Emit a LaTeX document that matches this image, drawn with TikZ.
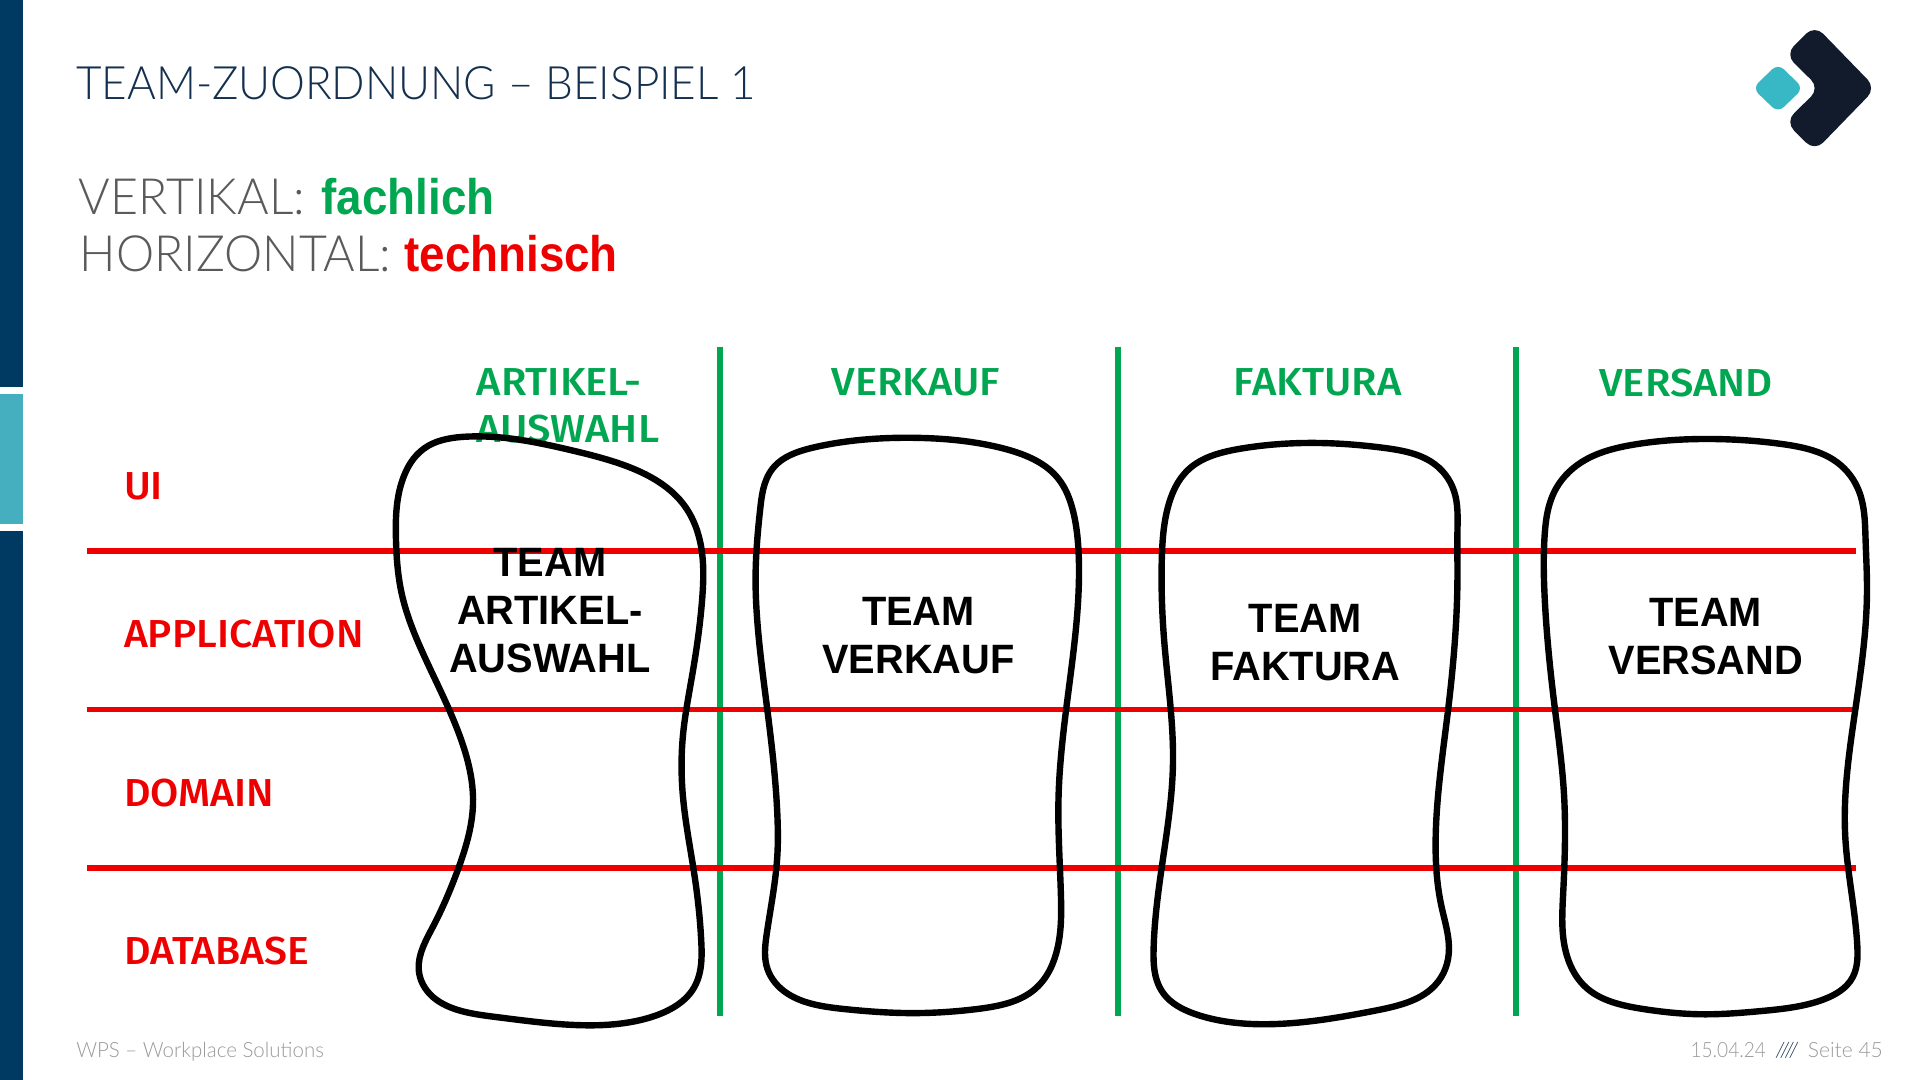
\documentclass[tikz,border=0pt]{standalone}
\usepackage{fontspec}
\usetikzlibrary{hobby}
\setmainfont{Liberation Sans}
\newfontfamily\titlef[FakeStretch=.957]{Lato Light}
\newfontfamily\lightf[FakeStretch=.965]{Lato Light}
\newfontfamily\footf[FakeStretch=.975]{Lato Light}
\newfontfamily\datef[FakeStretch=.91]{Lato Light}
\newfontfamily\slashf{Lato Light}
\newfontfamily\toplab[FakeStretch=1.07]{Fira Sans Medium}
\newfontfamily\sidelab[FakeStretch=1.05]{Fira Sans Medium}
\newfontfamily\bnarrow[FakeStretch=.915]{Liberation Sans}
\newfontfamily\tnarrow[FakeStretch=.97]{Liberation Sans}
\definecolor{navy}{HTML}{003A63}
\definecolor{teal1}{HTML}{45AEBF}
\definecolor{titlec}{HTML}{14304F}
\definecolor{greyt}{HTML}{5A5A5C}
\definecolor{footg}{HTML}{9A9A9C}
\definecolor{gr}{HTML}{00A650}
\definecolor{rd}{HTML}{EE0000}
\definecolor{logod}{HTML}{111B2B}
\definecolor{logot}{HTML}{38B7C5}
\tikzset{
 redline/.style={draw=rd,line width=2.75pt},
 greenline/.style={draw=gr,line width=3pt},
 blob/.style={draw=black,line width=3.2pt,use Hobby shortcut,closed=true},
 toplabel/.style={text=gr,font=\toplab\fontsize{19.5}{23.5}\selectfont,align=left,inner sep=0pt},
 sidelabel/.style={text=rd,font=\sidelab\fontsize{19.5}{23.5}\selectfont,anchor=west,inner sep=0pt},
 teamlabel/.style={text=black,font=\tnarrow\bfseries\fontsize{20.5}{24}\selectfont,align=center,inner sep=0pt},
 zonea/.style={shift={(310.3,343)},xscale=.3958,yscale=.3229},
 zoneb/.style={shift={(931,343)},xscale=.3958,yscale=.3229},
}
\begin{document}
\begin{tikzpicture}[x=0.61224pt,y=-0.61224pt]
\useasboundingbox (0,0) rectangle (1568,882);
\fill[white] (0,0) rectangle (1568,882);
\fill[navy] (0,0) rectangle (19,316);
\fill[teal1] (0,322) rectangle (19,428);
\fill[navy] (0,434) rectangle (19,882);
\node[anchor=base west,inner sep=0pt,text=titlec,font=\titlef\fontsize{23}{28}\selectfont] (title) at (62,81) {TEAM-ZUORDNUNG – BEISPIEL 1};
\node[anchor=base west,inner sep=0pt,text=greyt,font=\lightf\fontsize{25}{30}\selectfont] (vert) at (64,175) {VERTIKAL:\hspace{1.8pt} \textcolor{gr}{\bnarrow\bfseries fachlich}};
\node[anchor=base west,inner sep=0pt,text=greyt,font=\lightf\fontsize{25}{30}\selectfont] (hori) at (65,222) {HORIZONTAL: \textcolor{rd}{\bnarrow\bfseries technisch}};
% logo
\fill[logot,rounded corners=4pt] (1452,52) -- (1472.7,72) -- (1452,92) -- (1431.3,72) -- cycle;
\fill[logod,rounded corners=6pt] (1482,20.5) -- (1532,72) -- (1482,123.5) -- (1458,99.5) -- (1486,72) -- (1458,44.5) -- cycle;
% lines
\coordinate (r1a) at (71,450); \coordinate (r1b) at (1516,450);
\coordinate (r2a) at (71,579.5); \coordinate (r2b) at (1516,579.5);
\coordinate (r3a) at (71,709); \coordinate (r3b) at (1516,709);
\coordinate (g1a) at (588,283); \coordinate (g1b) at (588,830);
\coordinate (g2a) at (913,283); \coordinate (g2b) at (913,830);
\coordinate (g3a) at (1238,283); \coordinate (g3b) at (1238,830);
\draw[greenline] (g1a)--(g1b); \draw[greenline] (g2a)--(g2b); \draw[greenline] (g3a)--(g3b);
\draw[redline] (r1a)--(r1b); \draw[redline] (r2a)--(r2b); \draw[redline] (r3a)--(r3b);
% labels
\node[toplabel,anchor=north west] (t1) at (389,301) {ARTIKEL-\\AUSWAHL};
\node[toplabel] (t2) at (748,312.5) {VERKAUF};
\node[toplabel] (t3) at (1076,312.5) {FAKTURA};
\node[toplabel] (t4) at (1377,312.5) {VERSAND};
\node[sidelabel] (s1) at (101,397.5) {UI};
\node[sidelabel] (s2) at (101,517.5) {APPLICATION};
\node[sidelabel] (s3) at (101,647.5) {DOMAIN};
\node[sidelabel] (s4) at (101,776.5) {DATABASE};
% blobs
\begin{scope}[zonea]
\draw[blob] (180,42)..(400,78)..(618,201)..(661,310)..(665,450)..(645,640)..(625,800)..(625,950)..(650,1160)..(663,1320)..(640,1450)..(560,1510)..(400,1530)..(240,1510)..(110,1460)..(80,1390)..(110,1280)..(160,1140)..(192,970)..(165,800)..(100,620)..(45,440)..(33,300)..(50,140)..(100,65);
\draw[blob] (1100,45)..(1280,70)..(1390,135)..(1430,230)..(1442,350)..(1435,540)..(1415,740)..(1400,960)..(1405,1200)..(1395,1350)..(1340,1450)..(1230,1490)..(1100,1500)..(960,1490)..(840,1450)..(800,1390)..(798,1300)..(820,1100)..(820,1000)..(800,740)..(780,530)..(775,400)..(785,220)..(820,110)..(900,68);
\end{scope}
\begin{scope}[zoneb]
\draw[blob] (360,58)..(500,70)..(600,105)..(648,180)..(655,280)..(655,400)..(635,740)..(610,1060)..(622,1230)..(637,1350)..(600,1440)..(480,1495)..(270,1528)..(120,1505)..(55,1460)..(28,1340)..(45,1130)..(68,870)..(50,560)..(45,350)..(60,210)..(110,115)..(210,72);
\draw[blob] (1170,48)..(1320,60)..(1430,100)..(1480,170)..(1497,300)..(1500,430)..(1475,740)..(1455,1050)..(1480,1330)..(1465,1420)..(1400,1470)..(1280,1495)..(1160,1503)..(1040,1490)..(930,1445)..(885,1370)..(873,1200)..(875,950)..(855,720)..(835,450)..(835,290)..(860,170)..(920,100)..(1020,62);
\end{scope}
% team labels
\node[teamlabel] (a) at (449,499) {TEAM\\ARTIKEL-\\AUSWAHL};
\node[teamlabel] (b) at (750,519) {TEAM\\VERKAUF};
\node[teamlabel] (c) at (1066,525) {TEAM\\FAKTURA};
\node[teamlabel] (d) at (1393,520) {TEAM\\VERSAND};
% footer
\node[anchor=base west,inner sep=0pt,text=footg,font=\footf\fontsize{10.5}{12}\selectfont] (f1) at (62,864) {WPS – Workplace Solutions};
\node[anchor=base east,inner sep=0pt,text=footg,font=\slashf\fontsize{10.5}{12}\selectfont] (f2) at (1538,864) {{\datef 15.04.24}\hspace{5pt}\textcolor{titlec}{\itshape ////}\hspace{5pt}Seite 45};
\end{tikzpicture}
\end{document}
